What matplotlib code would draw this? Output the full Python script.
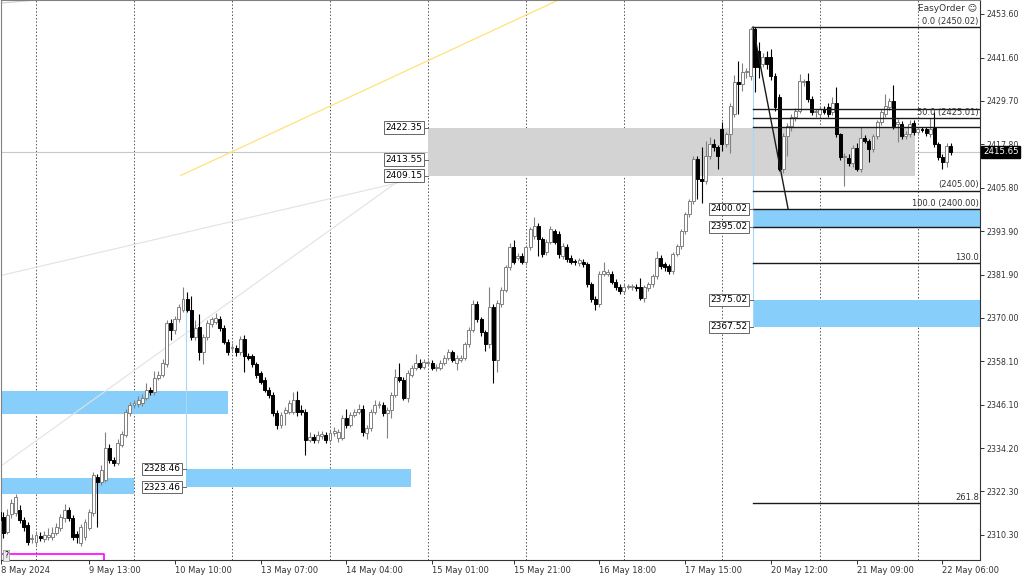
# XAUUSD H1 chart, MetaTrader style, with zones and Fibonacci levels
import numpy as np
import matplotlib.pyplot as plt
import matplotlib.transforms as mtransforms

plt.rcParams['font.family'] = ['DejaVu Sans']

# Bar index 0 = 9 May 00:00, one bar per hour
first_bar = -9

opens = [
    2316.6, 2315.3, 2311.2, 2316.1, 2316.4, 2317.2, 2314.4, 2313.1, 2309.2, 2308.4,
    2310.0, 2309.2, 2309.7, 2309.7, 2310.9, 2312.2, 2315.0, 2317.2, 2315.0, 2310.6,
    2308.1, 2309.7, 2312.2, 2316.4, 2326.3, 2324.9, 2325.5, 2334.3, 2331.0, 2330.1,
    2335.1, 2337.9, 2343.9, 2346.1, 2346.4, 2346.7, 2348.1, 2350.3, 2349.7, 2353.6,
    2354.4, 2357.2, 2368.7, 2366.8, 2369.8, 2372.3, 2375.1, 2372.3, 2364.8, 2367.6,
    2360.7, 2364.8, 2368.2, 2369.0, 2369.8, 2367.3, 2363.5, 2361.8, 2361.8, 2360.5,
    2364.3, 2359.4, 2359.4, 2357.2, 2354.9, 2353.0, 2350.3, 2348.9, 2343.9, 2340.6,
    2343.9, 2344.2, 2344.2, 2347.5, 2344.7, 2344.2, 2336.5, 2337.3, 2336.5, 2337.6,
    2337.9, 2336.5, 2338.4, 2337.0, 2337.0, 2342.5, 2340.6, 2343.4, 2344.2, 2345.0,
    2338.4, 2339.8, 2344.2, 2346.1, 2346.1, 2343.9, 2344.8, 2348.9, 2353.8, 2353.0,
    2348.1, 2354.4, 2356.3, 2357.7, 2356.6, 2357.7, 2357.7, 2356.3, 2356.3, 2357.7,
    2359.1, 2360.5, 2357.7, 2358.5, 2359.1, 2362.7, 2366.8, 2373.7, 2369.6, 2366.0,
    2362.7, 2372.9, 2358.5, 2373.7, 2377.8, 2383.9, 2389.4, 2386.6, 2386.9, 2385.3,
    2389.4, 2392.4, 2395.2, 2391.6, 2388.0, 2391.0, 2393.8, 2393.0, 2386.9, 2389.4,
    2386.6, 2385.5, 2385.0, 2385.5, 2384.7, 2379.2, 2375.1, 2373.7, 2382.2, 2382.0,
    2382.0, 2380.0, 2378.4, 2377.3, 2378.6, 2378.4, 2378.6, 2378.6, 2375.6, 2378.1,
    2379.2, 2381.4, 2386.6, 2384.7, 2384.2, 2382.8, 2387.5, 2389.7, 2393.8, 2398.5,
    2402.1, 2413.6, 2408.1, 2407.6, 2414.5, 2417.8, 2417.0, 2421.9, 2417.8, 2420.5,
    2426.0, 2434.9, 2434.3, 2437.6, 2436.5, 2449.6, 2443.4, 2439.8, 2441.7, 2441.7,
    2436.5, 2430.7, 2410.9, 2420.0, 2422.7, 2425.2, 2426.9, 2434.9, 2435.1, 2430.2,
    2426.6, 2426.0, 2427.4, 2428.0, 2426.6, 2429.1, 2420.5, 2414.2, 2413.9, 2412.5,
    2416.7, 2410.9, 2419.4, 2418.6, 2416.4, 2420.0, 2423.8, 2426.0, 2428.0, 2429.6,
    2423.3, 2423.3, 2420.0, 2420.5, 2423.6, 2421.1, 2421.9, 2421.9, 2420.5, 2422.2,
    2417.8, 2414.2, 2412.8, 2417.2,
]
highs = [
    2318.0, 2316.5, 2317.5, 2320.3, 2321.5, 2318.5, 2315.2, 2313.8, 2310.6, 2311.4,
    2311.0, 2311.5, 2312.2, 2312.6, 2313.5, 2316.0, 2318.8, 2318.0, 2315.8, 2311.5,
    2313.2, 2314.6, 2317.4, 2327.6, 2327.0, 2329.5, 2338.7, 2335.2, 2331.8, 2336.6,
    2339.0, 2344.9, 2346.9, 2347.5, 2348.4, 2349.0, 2352.0, 2351.0, 2355.5, 2355.3,
    2358.6, 2369.5, 2369.6, 2370.4, 2373.8, 2378.6, 2377.0, 2376.0, 2369.5, 2371.0,
    2365.6, 2369.5, 2370.3, 2371.3, 2370.6, 2368.0, 2364.2, 2363.0, 2362.6, 2365.0,
    2365.2, 2360.3, 2360.0, 2357.8, 2355.5, 2353.7, 2351.0, 2349.5, 2344.6, 2344.0,
    2345.5, 2347.5, 2349.5, 2349.8, 2346.0, 2345.0, 2338.5, 2338.2, 2338.8, 2339.0,
    2338.7, 2339.2, 2340.0, 2339.5, 2343.2, 2345.0, 2344.0, 2345.0, 2346.2, 2346.0,
    2340.6, 2345.0, 2347.5, 2347.2, 2347.0, 2345.5, 2349.5, 2356.0, 2357.5, 2353.8,
    2355.6, 2357.0, 2360.0, 2358.6, 2358.8, 2358.5, 2358.4, 2357.2, 2358.5, 2359.8,
    2361.4, 2361.2, 2359.9, 2359.9, 2363.4, 2367.6, 2374.8, 2374.6, 2370.3, 2366.8,
    2378.6, 2373.8, 2375.0, 2378.6, 2384.6, 2390.6, 2391.5, 2387.8, 2387.8, 2390.0,
    2395.0, 2397.7, 2396.0, 2392.3, 2391.8, 2395.2, 2394.6, 2393.8, 2390.5, 2390.4,
    2387.4, 2386.2, 2386.6, 2386.3, 2385.4, 2380.0, 2376.0, 2382.8, 2385.5, 2383.5,
    2382.8, 2380.7, 2379.2, 2379.4, 2379.4, 2379.3, 2379.2, 2381.0, 2379.0, 2380.0,
    2382.2, 2388.5, 2387.3, 2385.4, 2384.9, 2388.2, 2390.4, 2394.5, 2399.2, 2402.8,
    2414.6, 2414.5, 2417.0, 2418.6, 2419.8, 2419.2, 2417.6, 2424.0, 2421.2, 2429.0,
    2436.8, 2440.8, 2440.0, 2438.8, 2450.02, 2450.0, 2445.8, 2443.0, 2443.5, 2444.0,
    2437.3, 2431.5, 2421.0, 2423.5, 2426.0, 2427.8, 2437.0, 2435.8, 2437.5, 2431.0,
    2427.6, 2428.2, 2428.4, 2429.0, 2430.7, 2433.5, 2421.0, 2415.3, 2415.0, 2417.5,
    2418.0, 2422.5, 2420.3, 2419.3, 2420.7, 2424.5, 2427.4, 2431.6, 2430.4, 2434.0,
    2424.6, 2424.1, 2421.5, 2424.4, 2424.5, 2422.6, 2422.5, 2422.6, 2425.0, 2426.6,
    2418.5, 2415.0, 2418.0, 2418.1,
]
lows = [
    2313.0, 2309.5, 2310.5, 2315.0, 2315.5, 2313.5, 2311.5, 2307.6, 2308.0, 2307.5,
    2308.6, 2308.4, 2309.0, 2309.0, 2310.2, 2311.5, 2314.0, 2314.2, 2308.8, 2308.2,
    2307.3, 2309.0, 2311.6, 2315.6, 2312.6, 2324.0, 2324.8, 2330.2, 2329.3, 2329.5,
    2334.5, 2337.2, 2343.0, 2345.3, 2345.6, 2345.9, 2347.4, 2348.8, 2348.9, 2352.8,
    2353.7, 2356.5, 2364.0, 2365.5, 2369.0, 2371.6, 2371.5, 2364.0, 2363.8, 2358.5,
    2357.2, 2364.0, 2367.5, 2368.3, 2366.5, 2362.8, 2359.8, 2361.0, 2359.6, 2359.8,
    2355.2, 2358.3, 2356.5, 2353.6, 2351.8, 2349.5, 2348.0, 2343.0, 2339.5, 2339.6,
    2340.5, 2343.5, 2343.5, 2343.0, 2343.2, 2332.3, 2335.8, 2335.5, 2335.6, 2336.8,
    2335.7, 2335.8, 2337.5, 2336.0, 2336.3, 2339.8, 2340.0, 2342.8, 2343.5, 2337.5,
    2336.8, 2339.0, 2343.5, 2345.2, 2343.0, 2337.0, 2342.5, 2348.2, 2352.3, 2347.4,
    2346.8, 2353.7, 2355.6, 2355.9, 2356.0, 2357.0, 2355.6, 2355.5, 2355.6, 2357.0,
    2358.4, 2357.8, 2355.6, 2357.9, 2358.4, 2362.0, 2366.0, 2368.9, 2365.0, 2361.0,
    2361.8, 2352.2, 2355.0, 2373.0, 2377.0, 2383.2, 2384.8, 2385.8, 2384.7, 2384.6,
    2388.8, 2391.8, 2387.0, 2386.8, 2387.3, 2390.3, 2390.2, 2386.5, 2386.2, 2385.3,
    2384.8, 2384.6, 2384.3, 2384.0, 2378.4, 2374.3, 2372.3, 2373.0, 2381.6, 2381.4,
    2379.3, 2377.6, 2376.6, 2376.6, 2377.9, 2377.7, 2377.4, 2374.8, 2374.5, 2377.4,
    2378.5, 2380.7, 2383.5, 2383.0, 2382.0, 2382.1, 2387.0, 2389.0, 2393.2, 2397.8,
    2401.4, 2402.6, 2401.5, 2406.8, 2413.8, 2415.8, 2411.0, 2416.0, 2417.0, 2415.5,
    2425.3, 2426.0, 2432.3, 2436.0, 2435.5, 2432.1, 2436.0, 2439.0, 2438.6, 2435.5,
    2427.0, 2410.3, 2410.0, 2414.5, 2421.5, 2424.3, 2426.3, 2433.8, 2429.5, 2425.8,
    2425.4, 2425.3, 2426.0, 2425.3, 2425.8, 2419.8, 2413.5, 2406.2, 2411.8, 2411.6,
    2410.3, 2410.1, 2418.0, 2412.8, 2415.7, 2419.3, 2423.1, 2425.3, 2427.2, 2422.0,
    2418.3, 2419.3, 2419.3, 2419.8, 2420.4, 2420.4, 2421.2, 2420.1, 2419.8, 2417.1,
    2413.5, 2411.0, 2411.5, 2414.8,
]
closes = [
    2314.4, 2310.9, 2315.8, 2319.1, 2320.8, 2314.4, 2312.5, 2308.4, 2309.5, 2310.3,
    2309.5, 2310.3, 2310.3, 2310.9, 2312.5, 2315.3, 2317.2, 2315.0, 2309.7, 2309.7,
    2312.5, 2313.9, 2316.6, 2326.8, 2324.9, 2328.2, 2334.3, 2331.0, 2330.1, 2335.7,
    2338.1, 2344.2, 2346.1, 2346.7, 2347.5, 2348.1, 2350.3, 2349.7, 2353.6, 2354.4,
    2357.7, 2368.7, 2366.8, 2369.6, 2372.9, 2375.1, 2372.3, 2364.8, 2367.3, 2360.7,
    2364.8, 2368.7, 2369.6, 2370.1, 2367.3, 2363.5, 2360.5, 2362.1, 2360.5, 2364.3,
    2359.4, 2359.1, 2357.2, 2354.4, 2352.5, 2350.3, 2348.9, 2343.9, 2340.6, 2343.4,
    2344.7, 2346.7, 2347.5, 2344.2, 2344.2, 2336.5, 2337.3, 2336.5, 2337.9, 2338.1,
    2336.5, 2338.4, 2338.9, 2338.7, 2342.5, 2340.6, 2343.4, 2344.2, 2345.0, 2338.7,
    2339.8, 2344.2, 2346.1, 2346.2, 2343.9, 2344.8, 2348.9, 2353.8, 2353.0, 2348.1,
    2354.9, 2356.3, 2357.7, 2356.6, 2358.0, 2357.8, 2356.3, 2356.4, 2357.7, 2359.1,
    2360.5, 2358.5, 2359.1, 2359.1, 2362.7, 2366.8, 2373.7, 2369.6, 2366.0, 2362.7,
    2372.9, 2358.5, 2374.2, 2377.8, 2383.9, 2389.4, 2385.5, 2386.9, 2385.5, 2389.4,
    2394.4, 2395.2, 2391.6, 2387.5, 2391.0, 2394.4, 2391.0, 2387.5, 2389.7, 2386.1,
    2385.5, 2385.4, 2385.8, 2384.7, 2379.2, 2375.1, 2373.7, 2382.0, 2382.8, 2382.5,
    2380.0, 2378.4, 2377.3, 2378.6, 2378.7, 2378.6, 2378.1, 2375.6, 2378.4, 2379.2,
    2381.4, 2386.6, 2384.2, 2383.9, 2382.8, 2387.5, 2389.7, 2393.8, 2398.5, 2402.1,
    2413.6, 2408.1, 2407.6, 2414.5, 2417.8, 2417.0, 2414.5, 2417.8, 2420.5, 2428.2,
    2434.9, 2434.3, 2437.6, 2437.9, 2449.6, 2439.0, 2439.0, 2441.7, 2439.8, 2436.5,
    2428.0, 2410.9, 2420.0, 2422.7, 2425.2, 2426.9, 2435.1, 2435.1, 2430.2, 2426.6,
    2426.9, 2427.4, 2426.6, 2426.0, 2429.1, 2420.5, 2414.2, 2414.5, 2412.5, 2416.7,
    2410.9, 2419.4, 2418.6, 2416.4, 2420.0, 2423.8, 2426.6, 2428.2, 2429.6, 2422.7,
    2423.8, 2420.0, 2420.5, 2423.3, 2421.1, 2421.9, 2421.8, 2420.8, 2421.9, 2417.8,
    2414.2, 2412.8, 2417.2, 2415.65,
]

last_price = 2415.65

# time axis labels (bar index of the tick, text)
tick_bars = [-8.5, 13, 34, 55, 76, 97, 117, 138, 159, 180, 201, 222]
tick_texts = ['8 May 2024', '9 May 13:00', '10 May 10:00', '13 May 07:00', '14 May 04:00',
              '15 May 01:00', '15 May 21:00', '16 May 18:00', '17 May 15:00',
              '20 May 12:00', '21 May 09:00', '22 May 06:00']
day_starts = [0, 24, 48, 72, 96, 120, 144, 168, 192, 216]

price_ticks = [2453.60, 2441.60, 2429.70, 2417.80, 2405.80, 2393.90, 2381.90,
               2370.00, 2358.10, 2346.10, 2334.20, 2322.30, 2310.30]

# zones: (left bar, right bar, low, high)
gray_zone = (96.0, 215.3, 2409.15, 2422.35)
gray_zone_tags = [2422.35, 2413.55, 2409.15]
blue_zones = [
    (-9.0, 47.0, 2343.6, 2350.0),
    (-9.0, 24.0, 2321.6, 2326.0),
    (36.7, 91.8, 2323.46, 2328.46),
    (175.6, 240.0, 2395.02, 2400.02),
    (175.6, 240.0, 2367.52, 2375.02),
]
blue_tags = [(36.7, 2328.46), (36.7, 2323.46),
             (175.6, 2400.02), (175.6, 2395.02),
             (175.6, 2375.02), (175.6, 2367.52)]

# Fibonacci levels: (price, label)
fib_start = 175.6
fib_levels = [(2450.02, '0.0 (2450.02)'), (2427.50, ''), (2425.01, '50.0 (2425.01)'),
              (2422.50, ''), (2405.00, '(2405.00)'), (2400.00, '100.0 (2400.00)'),
              (2395.02, ''), (2384.99, '130.0'), (2319.07, '261.8')]

x_left, x_right = -8.57, 231.2
y_low, y_high = 2303.42, 2457.45

fig = plt.figure(figsize=(10.24, 5.76), dpi=100)
ax = fig.add_axes([1 / 1024, 16 / 576, 979 / 1024, 560 / 576])
ax.set_xlim(x_left, x_right)
ax.set_ylim(y_low, y_high)

# day separators
for d in day_starts:
    ax.axvline(d, color='#555555', lw=0.7, ls=(0, (1.5, 2)), zorder=0.5)

# current price line
ax.axhline(last_price, color='#c8c8c8', lw=0.8, zorder=0.6)

# zones
g0, g1, gl, gh = gray_zone
ax.add_patch(plt.Rectangle((g0, gl), g1 - g0, gh - gl, fc='#d3d3d3', ec='none', zorder=1))
for x0, x1, lo, hi in blue_zones:
    ax.add_patch(plt.Rectangle((x0, lo), x1 - x0, hi - lo, fc='#87cefa', ec='none', zorder=1))

# light blue anchor lines
ax.plot([36.7, 36.7], [2372.3, 2328.46], color='#a8d8f8', lw=0.8, zorder=1.2)
ax.plot([175.6, 175.6], [2436.5, 2367.52], color='#a8d8f8', lw=0.8, zorder=1.2)

# thin drawings
ax.plot([35.5, 128.5], [2409.2, 2457.73], color='#ffe27a', lw=0.9, zorder=1.5)
ax.plot([x_left, 89.2], [2381.7, 2407.3], color='#e2e2e2', lw=0.8, zorder=1.5)
ax.plot([x_left, 88.7], [2329.3, 2407.6], color='#e2e2e2', lw=0.8, zorder=1.5)
ax.plot([x_left, -0.5], [2456.6, 2457.4], color='#d0d0d0', lw=0.8, zorder=1.5)

# magenta box at bottom left
ax.plot([-8.3, 16.65, 16.65], [2305.1, 2305.1, 2300.0], color='#ff00ff', lw=1.2,
        zorder=2, clip_on=True)
ax.text(-7.8, 2304.6, '?', fontsize=5.5, ha='left', va='center', zorder=6,
        bbox=dict(boxstyle='square,pad=0.15', fc='#eeeeee', ec='#999999', lw=0.6))

# candles
bars = np.arange(first_bar, first_bar + len(closes))
o = np.array(opens)
h = np.maximum(np.array(highs), np.maximum(o, closes))
l = np.minimum(np.array(lows), np.minimum(o, closes))
c = np.array(closes)
up = c >= o
body_lo = np.minimum(o, c)
body_h = np.maximum(np.abs(c - o), 0.25)

ax.vlines(bars[up], l[up], h[up], color='#808080', lw=0.8, zorder=3)
ax.vlines(bars[~up], l[~up], h[~up], color='black', lw=0.8, zorder=3)
ax.bar(bars[up], body_h[up], bottom=body_lo[up], width=0.72, color='white',
       edgecolor='#808080', lw=0.7, zorder=3.2)
ax.bar(bars[~up], body_h[~up], bottom=body_lo[~up], width=0.72, color='black',
       edgecolor='black', lw=0.7, zorder=3.2)

# Fibonacci
for price, label in fib_levels:
    ax.plot([fib_start, x_right], [price, price], color='#1a1a1a', lw=1.0, zorder=4)
    if label:
        ax.text(x_right - 0.3, price + 0.35, label, fontsize=6, ha='right', va='bottom',
                color='#333333', zorder=5)
ax.plot([175.6, 184.2], [2450.02, 2400.0], color='#1a1a1a', lw=1.0, zorder=4)

# price tags
tag_box = dict(boxstyle='square,pad=0.18', fc='white', ec='#666666', lw=0.7)


def price_tag(x0, price):
    ax.plot([x0 - 1.0, x0], [price, price], color='#666666', lw=0.7, zorder=5)
    ax.annotate('%.2f' % price, xy=(x0 - 1.0, price), xytext=(-1, 0),
                textcoords='offset points', ha='right', va='center', fontsize=6.5,
                bbox=tag_box, zorder=6)


for p in gray_zone_tags:
    price_tag(g0, p)
for x0, p in blue_tags:
    price_tag(x0, p)

# axes styling
for side in ['left', 'top']:
    ax.spines[side].set_color('#808080')
    ax.spines[side].set_linewidth(0.8)
for side in ['right', 'bottom']:
    ax.spines[side].set_color('#333333')
    ax.spines[side].set_linewidth(0.8)

ax.yaxis.tick_right()
ax.set_yticks(price_ticks)
ax.set_yticklabels(['%.2f' % v for v in price_ticks])
ax.tick_params(axis='y', direction='out', length=3, width=0.7, labelsize=5.7,
               pad=2, colors='#333333')
ax.set_xticks(tick_bars)
ax.set_xticklabels(tick_texts)
ax.tick_params(axis='x', direction='out', length=3, width=0.7, labelsize=6,
               pad=1.5, colors='#333333')
for lbl in ax.get_xticklabels():
    lbl.set_ha('left')

# last price box on the price scale
trans = mtransforms.blended_transform_factory(ax.transAxes, ax.transData)
ax.text(1.003, last_price, '%.2f' % last_price, transform=trans, fontsize=6.2,
        color='white', ha='left', va='center', zorder=7, clip_on=False,
        bbox=dict(boxstyle='square,pad=0.2', fc='black', ec='black'))

ax.text(0.997, 0.992, 'EasyOrder \u263a', transform=ax.transAxes, fontsize=6.5,
        ha='right', va='top', color='#333333', zorder=7)

fig.savefig('out.png', dpi=100)
